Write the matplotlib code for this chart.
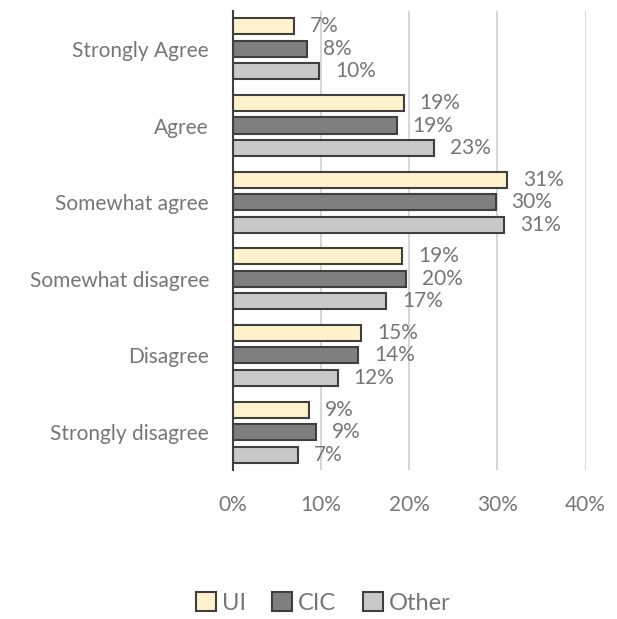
import matplotlib
matplotlib.use('Agg')
import matplotlib.pyplot as plt
from matplotlib.patches import Patch
import numpy as np

plt.rcParams['font.family'] = ['Lato', 'DejaVu Sans']

# response categories, top to bottom
categories = ['Strongly Agree', 'Agree', 'Somewhat agree',
              'Somewhat disagree', 'Disagree', 'Strongly disagree']
series = ['UI', 'CIC', 'Other']

# percent of respondents per group
ui = [7.0, 19.4, 31.1, 19.2, 14.6, 8.7]
cic = [8.4, 18.6, 29.8, 19.6, 14.2, 9.4]
other = [9.8, 22.8, 30.8, 17.4, 11.9, 7.4]

xticks = [0, 10, 20, 30, 40]

colors = ['#FFF2CC', '#7F7F7F', '#C9C9C9']
edge = '#3F3F3F'
txt = '#767676'
fs = 15

fig = plt.figure(figsize=(6.17, 6.19), dpi=100)
ax = fig.add_axes([0.377, 0.24, 0.572, 0.743])

y = np.arange(len(categories))
h = 0.209
pitch = 0.293
vals = [ui, cic, other]
for k in range(3):
    pos = y + (k - 1) * pitch
    ax.barh(pos, vals[k], height=h, color=colors[k], edgecolor=edge,
            linewidth=1.5, zorder=3)
    for p, v in zip(pos, vals[k]):
        ax.annotate('%.0f%%' % v, (v, p), xytext=(11.5, 0),
                    textcoords='offset points', ha='left', va='center',
                    fontsize=fs, color=txt)

ax.set_ylim(len(categories) - 0.5, -0.5)
ax.set_xlim(0, 40)
ax.set_yticks(y)
ax.set_yticklabels(categories, fontsize=fs, color=txt)
ax.set_xticks(xticks)
ax.set_xticklabels(['%d%%' % t for t in xticks], fontsize=fs, color=txt)
ax.tick_params(length=0)
ax.tick_params(axis='y', pad=17)
ax.tick_params(axis='x', pad=18)
ax.xaxis.grid(True, color='#D0D0D0', linewidth=1.2, zorder=0)
for s in ['top', 'right', 'bottom']:
    ax.spines[s].set_visible(False)
ax.spines['left'].set_color('#404040')
ax.spines['left'].set_linewidth(1.5)
ax.spines['left'].set_zorder(4)

handles = [Patch(facecolor=c, edgecolor=edge, linewidth=1.5) for c in colors]
fig.legend(handles, series, loc='center', bbox_to_anchor=(0.524, 0.026),
           ncol=3, frameon=False, fontsize=17, labelcolor=txt,
           handlelength=0.85, handleheight=0.85, handletextpad=0.25,
           columnspacing=1.1)

fig.savefig('out.png', dpi=100)
